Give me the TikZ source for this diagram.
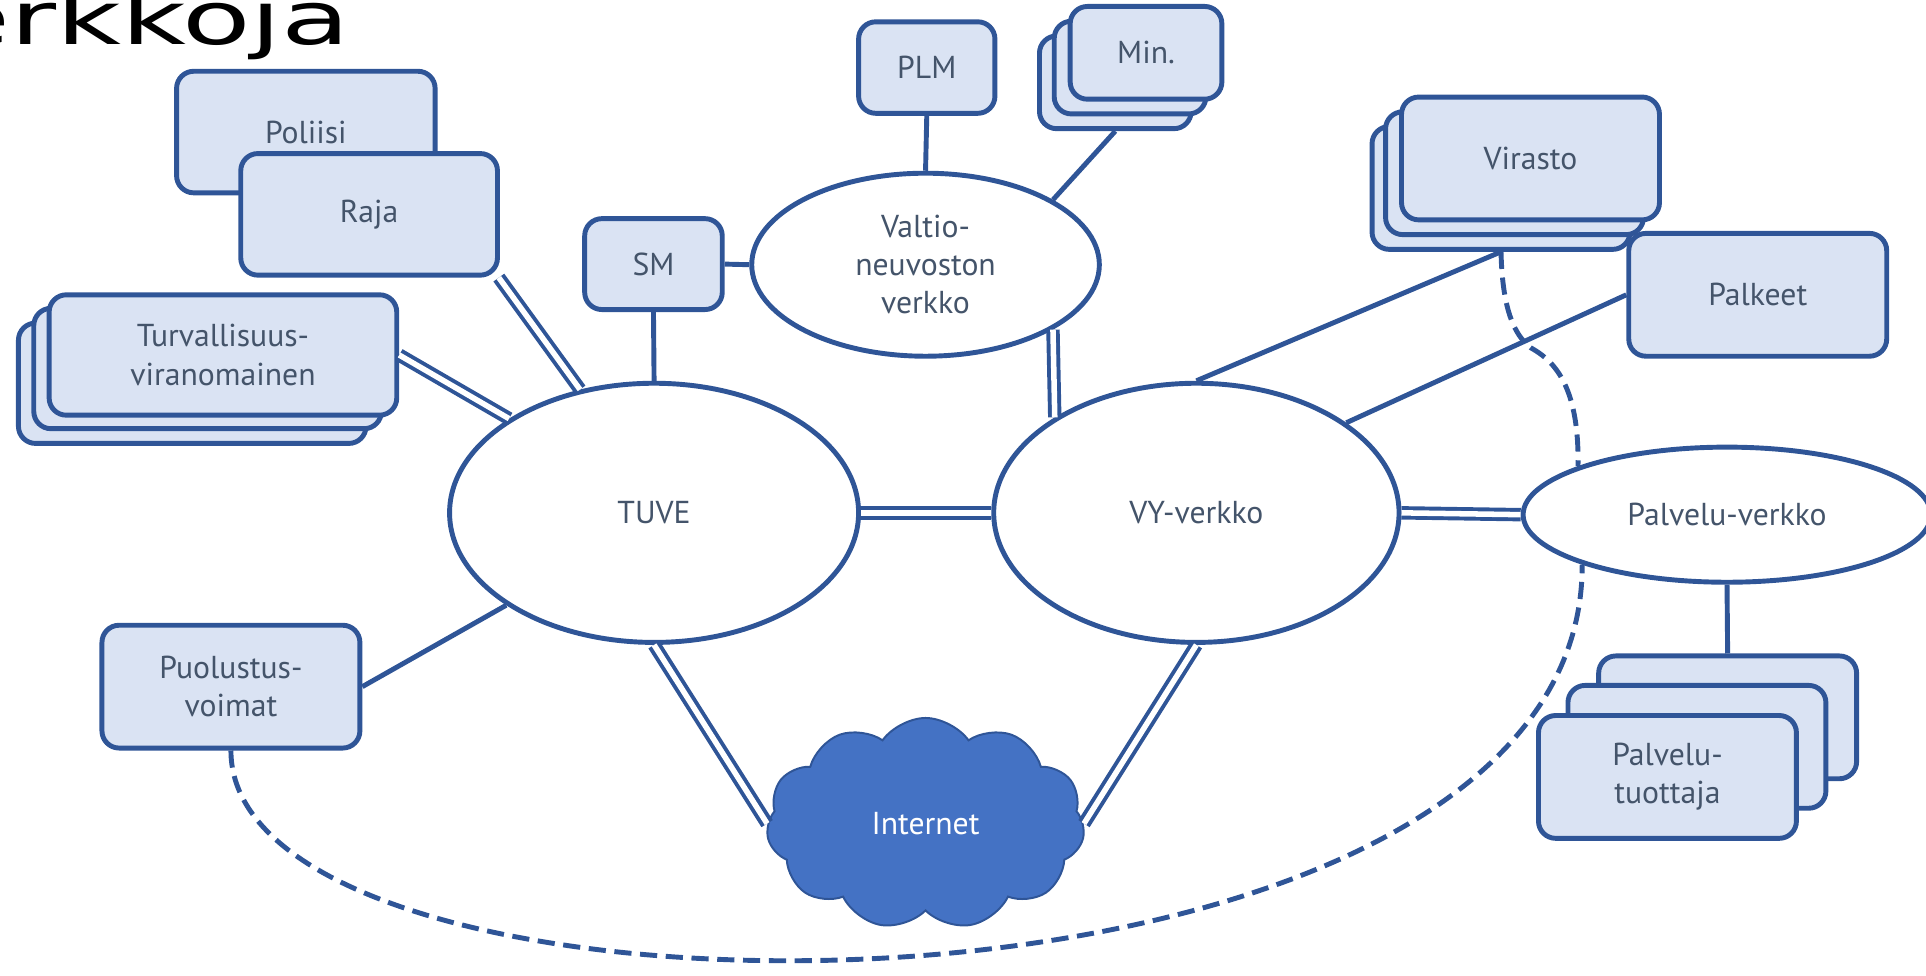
\documentclass[tikz,border=0pt]{standalone}
\usepackage{fontspec}
\setmainfont{PT Sans}
\newfontfamily\otsikkofont{DejaVu Sans}
\usetikzlibrary{shapes.geometric,shapes.symbols}

\definecolor{linja}{HTML}{2F5597}
\definecolor{tausta}{HTML}{DAE3F3}
\definecolor{teksti}{HTML}{44546A}
\definecolor{pilvi}{HTML}{4472C4}

\tikzset{
	laatikko/.style={draw=linja, fill=tausta, line width=2pt, rounded corners=7pt,
		text=teksti, align=center, inner sep=0pt, font=\fontsize{12.9}{15.5}\selectfont},
	verkko/.style={ellipse, draw=linja, fill=white, line width=2pt,
		text=teksti, align=center, inner sep=0pt, font=\fontsize{12.9}{15.5}\selectfont},
	yhteys/.style={draw=linja, line width=2pt},
	tupla/.style={draw=linja, double=white, double distance=2.25pt, line width=1.6pt},
	katko/.style={draw=linja, line width=2pt, dash pattern=on 7pt off 3.5pt},
}

\begin{document}
\begin{tikzpicture}[x=0.5pt, y=-0.5pt]
	\useasboundingbox (0,0) rectangle (1568,794);
	\clip (0,0) rectangle (1568,794);

	% Draw the title
	\node[anchor=base west, inner sep=0pt] (otsikko) at (-48,36)
		{\otsikkofont\fontsize{30}{34}\selectfont\scalebox{1.52}[1]{erkkoja}};

	% Draw the networks
	\node[verkko, minimum width=166.5pt, minimum height=105.5pt] (tuve) at (532.5,417.5) {TUVE};
	\node[verkko, minimum width=165pt, minimum height=105.5pt] (vy) at (974,417.5) {VY-verkko};
	\node[verkko, minimum width=141.5pt, minimum height=74.5pt] (valtio) at (753.5,215.5) {Valtio-\\neuvoston\\verkko};
	\node[verkko, minimum width=166pt, minimum height=55pt] (palvelu) at (1406,419) {Palvelu-verkko};
	\node[cloud, cloud puffs=11, cloud puff arc=110, aspect=1.5, draw=linja, fill=pilvi, line width=0.8pt,
		text=white, inner sep=0pt, minimum width=129.5pt, minimum height=86pt,
		font=\fontsize{12.9}{15.5}\selectfont] (internet) at (753.5,670.5) {Internet};

	% Draw the boxes on the left
	\node[laatikko, minimum width=105.25pt, minimum height=49.5pt] (poliisi) at (249,107.5) {Poliisi};
	\node[laatikko, minimum width=104.5pt, minimum height=49.5pt] (raja) at (300.5,174.5) {Raja};
	\node[laatikko, minimum width=141.5pt, minimum height=49pt] (turvC) at (156.5,312) {};
	\node[laatikko, minimum width=141.5pt, minimum height=49pt] (turvB) at (169,300) {};
	\node[laatikko, minimum width=141.5pt, minimum height=49pt] (turv) at (181.5,289) {Turvallisuus-\\viranomainen};
	\node[laatikko, minimum width=105pt, minimum height=50pt] (puolustus) at (188,559) {Puolustus-\\voimat};

	% Draw the boxes on top
	\node[laatikko, minimum width=56pt, minimum height=37pt] (sm) at (532,215) {SM};
	\node[laatikko, minimum width=55.5pt, minimum height=37.25pt] (plm) at (754.5,55) {PLM};
	\node[laatikko, minimum width=61.75pt, minimum height=37.75pt] (minC) at (908,67) {};
	\node[laatikko, minimum width=61.75pt, minimum height=37.75pt] (minB) at (920,55) {};
	\node[laatikko, minimum width=61.75pt, minimum height=37.75pt] (min) at (933,43) {Min.};

	% Draw the boxes on the right
	\node[laatikko, minimum width=105pt, minimum height=50pt] (virC) at (1222,153) {};
	\node[laatikko, minimum width=105pt, minimum height=50pt] (virB) at (1233,141) {};
	\node[laatikko, minimum width=105pt, minimum height=50pt] (virasto) at (1246,129) {Virasto};
	\node[laatikko, minimum width=105pt, minimum height=50pt] (palkeet) at (1431,240) {Palkeet};
	\node[laatikko, minimum width=105pt, minimum height=50pt] (tuotC) at (1406.5,584) {};
	\node[laatikko, minimum width=105pt, minimum height=50pt] (tuotB) at (1381.5,608) {};
	\node[laatikko, minimum width=105pt, minimum height=50pt] (tuottaja) at (1357.5,632.5) {Palvelu-\\tuottaja};

	% Draw the links
	\draw[tupla] (raja.-26) -- (tuve.121.5);
	\draw[tupla] (turv.east) -- (tuve.147.8);
	\draw[yhteys] (sm.south) -- (tuve.north);
	\draw[yhteys] (sm.east) -- (valtio.west);
	\draw[yhteys] (plm.south) -- (valtio.north);
	\draw[yhteys] (minC.south) -- (valtio.27.8);
	\draw[tupla] (valtio.-27.3) -- (vy.146.7);
	\draw[tupla] (tuve.east) -- (vy.west);
	\draw[yhteys] (vy.north) -- (virC.south);
	\draw[yhteys] (vy.31) -- (palkeet.west);
	\draw[tupla] (vy.east) -- (palvelu.west);
	\draw[yhteys] (palvelu.south) -- (tuotC.north);
	\draw[yhteys] (puolustus.east) -- (tuve.212.4);
	\draw[tupla] (tuve.south) -- (internet.west);
	\draw[tupla] (vy.south) -- (internet.east);

	% Draw the dashed links
	\draw[katko] (puolustus.south) .. controls (188,860) and (1289,860) .. (palvelu.199);
	\draw[katko] (virC.south) .. controls (1223,250) and (1232,272) .. (1246,283)
		.. controls (1262,292) and (1286,310) .. (palvelu.162);
\end{tikzpicture}
\end{document}
